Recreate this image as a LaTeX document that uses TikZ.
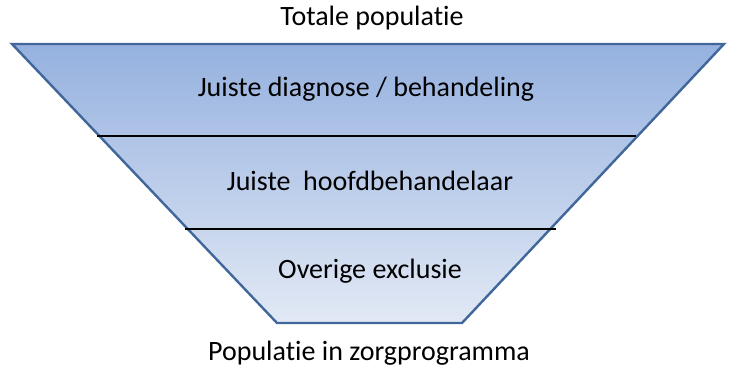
\documentclass[tikz,border=0pt]{standalone}
\usepackage{fontspec}
\setmainfont[Ligatures={NoCommon}]{Carlito}
\definecolor{funnelrand}{HTML}{41679A}
\definecolor{funneltop}{HTML}{95B1DF}
\definecolor{funnelbodem}{HTML}{E2E9F5}
\tikzset{
  label/.style={font=\fontsize{28}{32}\selectfont, text=black, inner sep=0pt},
  scheiding/.style={line width=2.4pt, black}
}
\begin{document}
\begin{tikzpicture}[x=1pt, y=-1pt]
  \useasboundingbox (0,0) rectangle (731,367);
  % hoekpunten van de trechter
  \coordinate (lb) at (12,44);
  \coordinate (rb) at (724,44);
  \coordinate (ro) at (462,323);
  \coordinate (lo) at (277,323);
  \shade [top color=funneltop, bottom color=funnelbodem]
    (lb) -- (rb) -- (ro) -- (lo) -- cycle;
  \draw [funnelrand, line width=2.4pt, line join=miter]
    (lb) -- (rb) -- (ro) -- (lo) -- cycle;
  % scheidingslijnen
  \draw [scheiding] (97,136) -- (636,136);
  \draw [scheiding] (185,229) -- (556,229);
  % teksten
  \node [label] (totaal) at (372,18) {Totale populatie};
  \node [label] (diagnose) at (366,89) {Juiste diagnose / behandeling};
  \node [label] (hoofd) at (370,181) {Juiste\ \ hoofdbehandelaar};
  \node [label] (overig) at (370,271) {Overige exclusie};
  \node [label] (zorg) at (369,353) {Populatie in zorgprogramma};
\end{tikzpicture}
\end{document}
